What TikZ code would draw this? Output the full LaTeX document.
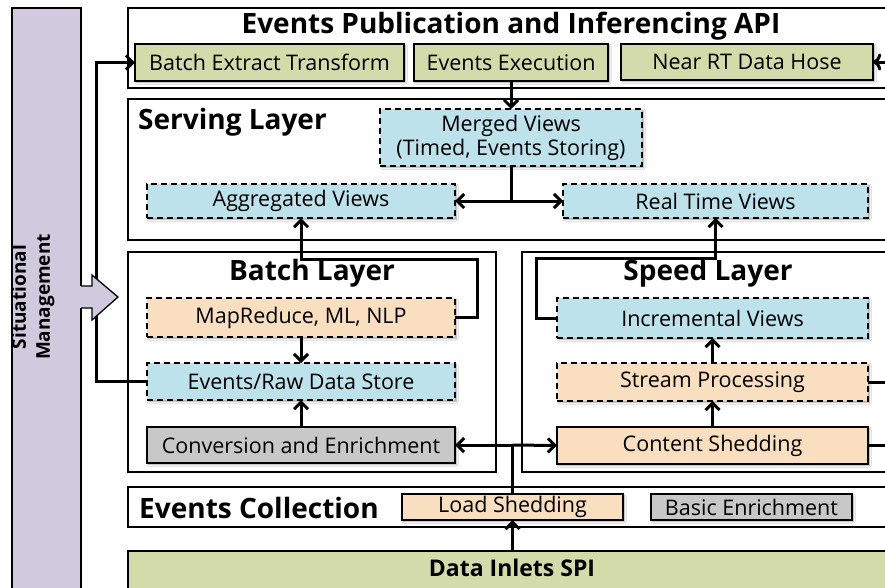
\documentclass[tikz,border=0pt]{standalone}
\usepackage{fontspec}
\setmainfont{Open Sans}
\usepackage{tikz}
\usetikzlibrary{calc,arrows.meta,positioning}
\usetikzlibrary{shadows.blur}
\definecolor{apigreen}{RGB}{212,219,170}
\definecolor{viewblue}{RGB}{190,226,235}
\definecolor{procpeach}{RGB}{250,222,192}
\definecolor{enrgray}{RGB}{200,200,200}
\definecolor{sitlav}{RGB}{209,201,222}
\tikzset{
panel/.style={rectangle, draw, line width=1.3pt, fill=white, anchor=north west, inner sep=0, outer sep=0},
item/.style={rectangle, draw, line width=1.3pt, anchor=north west, inner sep=0, outer sep=0, font=\fontsize{21.5}{24}\selectfont, align=center, blur shadow={shadow xshift=1.5pt, shadow yshift=-1.5pt, shadow blur radius=1.5pt, shadow opacity=35}},
api_item/.style={item, fill=apigreen},
view_item/.style={item, fill=viewblue, dashed, dash pattern=on 6pt off 4pt},
proc_item/.style={item, fill=procpeach, dashed, dash pattern=on 6pt off 4pt},
feed_item/.style={item, fill=procpeach},
enr_item/.style={item, fill=enrgray},
layer_title/.style={font=\bfseries\fontsize{28}{32}\selectfont, inner sep=0},
flow/.style={line width=3pt, -{Straight Barb[length=7pt, width=14pt]}},
wire/.style={line width=3pt}
}

\begin{document}
\begin{tikzpicture}[x=1pt, y=-1pt]
    \clip (0,0) rectangle (885,587);
    % situational management bar
    \node[panel, fill=sitlav, minimum width=69pt, minimum height=590pt] (sitbar) at (12,8) {};
    \node[rotate=90, align=center, font=\bfseries\fontsize{19}{24}\selectfont] (sittext) at (33,297) {Situational\\Management};
    % api layer
    \node[panel, minimum width=770pt, minimum height=80pt] (api) at (128,8) {};
    \node[layer_title] (api_title) at (511,26) {Events Publication and Inferencing API};
    \node[api_item, minimum width=269pt, minimum height=37pt] (bet) at (135,44) {Batch Extract Transform};
    \node[api_item, minimum width=194pt, minimum height=37pt] (exec) at (414,44) {Events Execution};
    \node[api_item, minimum width=252pt, minimum height=36pt] (hose) at (621,44) {Near RT Data Hose};
    % serving layer
    \node[panel, minimum width=770pt, minimum height=141pt] (serving) at (128,99) {};
    \node[layer_title, anchor=west] (serving_title) at (138,122) {Serving Layer};
    \node[view_item, minimum width=262pt, minimum height=57pt] (merged) at (380,109) {Merged Views\\(Timed, Events Storing)};
    \node[view_item, minimum width=308pt, minimum height=34pt] (aggr) at (147,184) {Aggregated Views};
    \node[view_item, minimum width=305pt, minimum height=34pt] (rtv) at (563,184) {Real Time Views};
    % batch layer
    \node[panel, minimum width=368pt, minimum height=220pt] (batch) at (128,252) {};
    \node[layer_title] (batch_title) at (312,273) {Batch Layer};
    \node[proc_item, minimum width=308pt, minimum height=39pt] (mapred) at (147,298) {MapReduce, ML, NLP};
    \node[view_item, minimum width=308pt, minimum height=37pt] (rawstore) at (147,363) {Events/Raw Data Store};
    \node[enr_item, minimum width=308pt, minimum height=36pt] (convert) at (147,427) {Conversion and Enrichment};
    % speed layer
    \node[panel, minimum width=376pt, minimum height=220pt] (speed) at (522,252) {};
    \node[layer_title] (speed_title) at (708,273) {Speed Layer};
    \node[view_item, minimum width=311pt, minimum height=40pt] (incr) at (557,298) {Incremental Views};
    \node[proc_item, minimum width=311pt, minimum height=38pt] (stream) at (557,363) {Stream Processing};
    \node[feed_item, minimum width=311pt, minimum height=37pt] (content) at (557,427) {Content Shedding};
    % events collection
    \node[panel, minimum width=770pt, minimum height=40pt] (collect) at (128,487) {};
    \node[layer_title, anchor=west] (collect_title) at (139,508) {Events Collection};
    \node[feed_item, minimum width=221pt, minimum height=26pt] (loadshed) at (402,494) {Load Shedding};
    \node[enr_item, minimum width=201pt, minimum height=26pt] (basicenr) at (651,494) {Basic Enrichment};
    % data inlets
    \node[panel, fill=apigreen, minimum width=770pt, minimum height=45pt] (inlets) at (128,551) {};
    \node[layer_title, font=\bfseries\fontsize{23}{26}\selectfont] (inlets_title) at (512,568) {Data Inlets SPI};
    % connectors
    \coordinate (bl_top) at (0,259);
    \coordinate (sl_top) at (0,258);
    \draw[flow] (exec.south) -- (merged.north);
    \draw[wire] (merged.south) -- (merged.south |- aggr.east) coordinate (split);
    \draw[flow] (split) -- (aggr.east);
    \draw[flow] (split) -- (rtv.west);
    \draw[flow] (mapred.east) -- ++(22,0) |- (aggr.south |- bl_top) -- (aggr.south);
    \draw[flow] (incr.west) -- ++(-21,0) |- (rtv.south |- sl_top) -- (rtv.south);
    \draw[flow] (mapred.south) -- (rawstore.north);
    \draw[flow] (convert.north) -- (rawstore.south);
    \draw[flow] (content.north) -- (stream.south);
    \draw[flow] (stream.north) -- (incr.south);
    \draw[flow] (loadshed.south |- inlets.north) -- (loadshed.south);
    \draw[wire] (loadshed.north) -- (loadshed.north |- convert.east) coordinate (bus);
    \draw[flow] (bus) -- (convert.east);
    \draw[flow] (bus) -- (content.west);
    \draw[flow] (rawstore.west) -- ++(-51,0) |- (bet.west);
    \draw[wire] (stream.east) -- ++(20,0);
    \draw[wire] (content.east) -- ++(20,0);
    \draw[flow, <-] (hose.east) -- ++(15,0);
    % situational arrow
    \fill[sitlav] (80,286) -- (92,286) -- (92,275) -- (118,297) -- (92,320) -- (92,308) -- (80,308) -- cycle;
    \draw[line width=1.3pt] (sitbar.east |- 0,286) -- (92,286) -- (92,275) -- (118,297) -- (92,320) -- (92,308) -- (sitbar.east |- 0,308);
\end{tikzpicture}
\end{document}
